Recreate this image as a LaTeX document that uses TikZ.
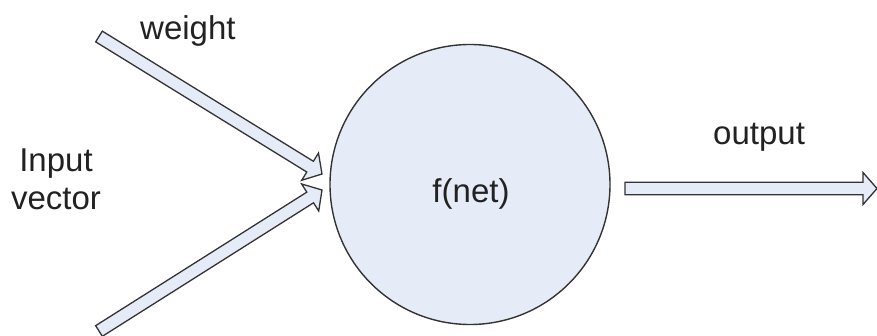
\documentclass[tikz,border=0pt]{standalone}
\usepackage{fontspec}
\setmainfont{Liberation Sans}
\usetikzlibrary{calc}
\definecolor{fillc}{HTML}{E6ECF7}
\definecolor{linec}{HTML}{333333}
\definecolor{textc}{HTML}{222222}
\begin{document}
\begin{tikzpicture}[x=1pt,y=-1pt,
  lbl/.style={inner sep=0pt, text=textc, font=\fontsize{33}{38}\selectfont},
  neuronstyle/.style={circle, draw=linec, fill=fillc, line width=1.4pt, minimum size=280pt, inner sep=0pt},
  fat/.style={draw=linec, fill=fillc, line width=1.3pt, line join=miter,
    to path={
      ($(\tikztostart)!6.3pt!90:(\tikztotarget)$)
      -- ($($(\tikztotarget)!14pt!(\tikztostart)$)!6.3pt!-90:(\tikztostart)$)
      -- ($($(\tikztotarget)!14pt!(\tikztostart)$)!16pt!-90:(\tikztostart)$)
      -- (\tikztotarget)
      -- ($($(\tikztotarget)!14pt!(\tikztostart)$)!16pt!90:(\tikztostart)$)
      -- ($($(\tikztotarget)!14pt!(\tikztostart)$)!6.3pt!90:(\tikztostart)$)
      -- ($(\tikztostart)!6.3pt!-90:(\tikztotarget)$)
      -- cycle}}]
\useasboundingbox (0,0) rectangle (877,336);
\fill[white] (0,0) rectangle (877,336);

\node[neuronstyle] (neuron) at (470,184.5) {};
\node[lbl, anchor=base] (fnet) at (471,203) {f(net)};

\coordinate (w1) at (99,36.5);
\coordinate (w1tip) at (322,174);
\coordinate (w2) at (99,331);
\coordinate (w2tip) at (322,190);
\coordinate (o1) at (625,188.5);
\coordinate (o2) at (877,188.5);

\draw[fat] (w1) to (w1tip);
\draw[fat] (w2) to (w2tip);
\draw[fat] (o1) to (o2);

\node[lbl, anchor=base west] (weight) at (140,40) {weight};
\node[lbl, anchor=base, align=center] (input) at (56,210) {Input\\vector};
\node[lbl, anchor=base west] (output) at (713,145) {output};
\end{tikzpicture}
\end{document}
